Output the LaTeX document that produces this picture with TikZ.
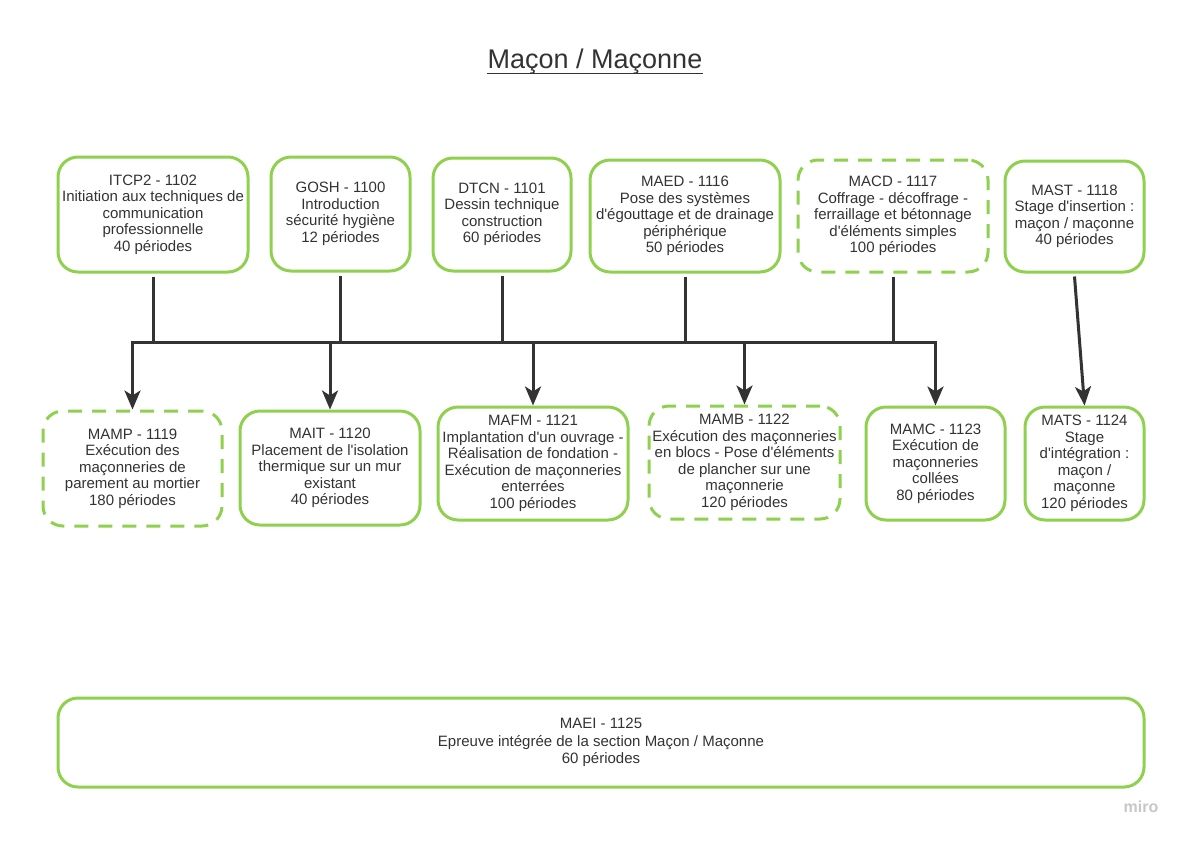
\documentclass[tikz,border=0pt]{standalone}
\usepackage{fontspec}
\setmainfont{Liberation Sans}[Ligatures=TeXOff]
\usetikzlibrary{positioning,arrows.meta}
\definecolor{miroGreen}{HTML}{8FD14F}
\definecolor{inkGrey}{HTML}{333333}

\begin{document}
\begin{tikzpicture}[
    x=1pt, y=-1pt,
    box/.style={rectangle,draw=miroGreen,line width=3pt,rounded corners=20pt,
      align=center,text=inkGrey,inner sep=0pt,
      font=\fontsize{15}{16.5}\selectfont},
    optbox/.style={box,dash pattern=on 14pt off 10pt},
    wh/.style 2 args={minimum width=#1,minimum height=#2},
    link/.style={draw=inkGrey,line width=3pt},
    feed/.style={link,-{Stealth[length=19pt,width=16pt,inset=5pt]}}
]
\useasboundingbox[fill=white] (0,0) rectangle (1188,841);

% title
\node[anchor=base,inner sep=0pt,text=inkGrey,font=\fontsize{27}{30}\selectfont]
  (title) at (595,68) {Maçon / Maçonne\ };
\draw[inkGrey,line width=1.8pt] ([yshift=-5.5pt]title.base west) -- ([yshift=-5.5pt]title.base east);

% first row
\node[box,wh={190pt}{115pt}] (itcp) at (153,214.5)
  {ITCP2 - 1102\\Initiation aux techniques de\\communication\\professionnelle\\40 périodes};
\node[box,wh={139pt}{114pt}] (gosh) at (340.5,214)
  {GOSH - 1100\\Introduction\\sécurité hygiène\\12 périodes};
\node[box,wh={138pt}{113pt}] (dtcn) at (502,214.5)
  {DTCN - 1101\\Dessin technique\\construction\\60 périodes};
\node[box,wh={190pt}{112pt}] (maed) at (685,216)
  {MAED - 1116\\Pose des systèmes\\d'égouttage et de drainage\\périphérique\\50 périodes};
\node[optbox,wh={190pt}{112pt}] (macd) at (893,216)
  {MACD - 1117\\Coffrage - décoffrage -\\ferraillage et bétonnage\\d'éléments simples\\100 périodes};
\node[box,wh={139pt}{111pt}] (mast) at (1074.5,216.5)
  {MAST - 1118\\Stage d'insertion :\\maçon / maçonne\\40 périodes};

% second row
\node[optbox,wh={179pt}{115pt}] (mamp) at (132.5,468.5)
  {MAMP - 1119\\Exécution des\\maçonneries de\\parement au mortier\\180 périodes};
\node[box,wh={180pt}{114pt}] (mait) at (330,468)
  {MAIT - 1120\\Placement de l'isolation\\thermique sur un mur\\existant\\40 périodes};
\node[box,wh={190pt}{113pt}] (mafm) at (533,463.5)
  {MAFM - 1121\\Implantation d'un ouvrage -\\Réalisation de fondation -\\Exécution de maçonneries\\enterrées\\100 périodes};
\node[optbox,wh={191pt}{113pt}] (mamb) at (744.5,462.5)
  {MAMB - 1122\\Exécution des maçonneries\\en blocs - Pose d'éléments\\de plancher sur une\\maçonnerie\\120 périodes};
\node[box,wh={139pt}{113pt}] (mamc) at (935.5,463.5)
  {MAMC - 1123\\Exécution de\\maçonneries\\collées\\80 périodes};
\node[box,wh={119pt}{113pt}] (mats) at (1084.5,463.5)
  {MATS - 1124\\Stage\\d'intégration :\\maçon /\\maçonne\\120 périodes};

% final exam
\node[box,wh={1086pt}{89pt},font=\fontsize{15}{17.5}\selectfont] (maei) at (601,742.5)
  {MAEI - 1125\\Epreuve intégrée de la section Maçon / Maçonne\\60 périodes};

% connectors
\coordinate (busL) at (132.5,342);
\coordinate (busR) at (935.5,342);
\draw[link,line cap=rect] (busL) -- (busR);
\foreach \n in {itcp,gosh,dtcn,maed,macd}
  \draw[link] ([yshift=-3pt]\n.south) -- (\n.south |- busL);
\foreach \n in {mamp,mait,mafm,mamb,mamc}
  \draw[feed] (\n.north |- busL) -- (\n.north);
\draw[feed] ([yshift=-3pt]mast.south) -- (mats.north);

\node[text=black!22,font=\bfseries\fontsize{16}{18}\selectfont] (wm) at (1141,807) {miro};
\end{tikzpicture}
\end{document}
